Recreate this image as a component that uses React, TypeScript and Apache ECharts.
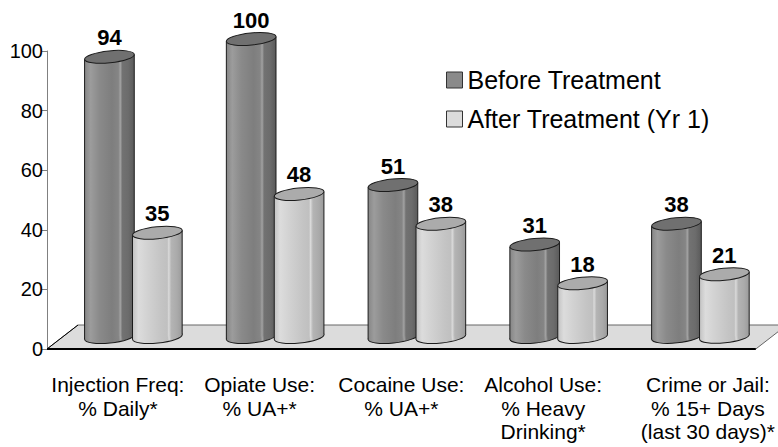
import React, { useEffect, useRef } from "react";
import * as echarts from "echarts";

const categories = [
  "Injection Freq:\n% Daily*",
  "Opiate Use:\n% UA+*",
  "Cocaine Use:\n% UA+*",
  "Alcohol Use:\n% Heavy\nDrinking*",
  "Crime or Jail:\n% 15+ Days\n(last 30 days)*",
];
const beforeValues = [94, 100, 51, 31, 38];
const afterValues = [35, 48, 38, 18, 21];
const seriesNames = ["Before Treatment", "After Treatment (Yr 1)"];
const yMin = 0;
const yMax = 100;
const yInterval = 20;

const FONT = '"Liberation Sans", Arial, Helvetica, sans-serif';
const DX = 31; // floor depth, horizontal
const DY = 24; // floor depth, vertical
const RY = 6; // ellipse vertical radius
const TILT = 0.1;
const EDGE = "#1c1c1c";

const beforeStops = [
  { offset: 0, color: "#868686" },
  { offset: 0.12, color: "#9c9c9c" },
  { offset: 0.3, color: "#8a8a8a" },
  { offset: 0.55, color: "#7e7e7e" },
  { offset: 0.68, color: "#858585" },
  { offset: 0.72, color: "#a2a2a2" },
  { offset: 0.76, color: "#727272" },
  { offset: 0.88, color: "#6c6c6c" },
  { offset: 1, color: "#5a5a5a" },
];
const afterStops = [
  { offset: 0, color: "#c2c2c2" },
  { offset: 0.12, color: "#dcdcdc" },
  { offset: 0.3, color: "#d2d2d2" },
  { offset: 0.58, color: "#c4c4c4" },
  { offset: 0.7, color: "#c0c0c0" },
  { offset: 0.73, color: "#dadada" },
  { offset: 0.78, color: "#b4b4b4" },
  { offset: 0.9, color: "#aaaaaa" },
  { offset: 1, color: "#9a9a9a" },
];

function makeCylinder(side: number, stops: any[], topColor: string) {
  return (params: any, api: any) => {
    const idx = api.value(0);
    const val = api.value(1);
    const band = api.size([1, 0])[0];
    const r = band * 0.176;
    const off = band * 0.169;
    const base = api.coord([idx, 0]);
    const top = api.coord([idx, val]);
    const cx = base[0] + side * off + DX / 2;
    const by = base[1] - DY / 2;
    const ty = top[1] - DY / 2;
    const c = Math.cos(TILT);
    const s = Math.sin(TILT);
    const ex = Math.sqrt(r * r * c * c + RY * RY * s * s);
    const d = ((r * r - RY * RY) * s * c) / ex;
    const grad = () => new echarts.graphic.LinearGradient(0, 0, 1, 0, stops);
    return {
      type: "group",
      children: [
        {
          type: "ellipse",
          shape: { cx, cy: by, rx: r, ry: RY },
          rotation: TILT,
          originX: cx,
          originY: by,
          style: { fill: grad(), stroke: EDGE, lineWidth: 1 },
        },
        {
          type: "polygon",
          shape: {
            points: [
              [cx - ex, ty + d],
              [cx + ex, ty - d],
              [cx + ex, by - d],
              [cx - ex, by + d],
            ],
          },
          style: { fill: grad(), stroke: null },
        },
        {
          type: "line",
          shape: { x1: cx - ex, y1: ty + d, x2: cx - ex, y2: by + d },
          style: { stroke: EDGE, lineWidth: 1 },
        },
        {
          type: "line",
          shape: { x1: cx + ex, y1: ty - d, x2: cx + ex, y2: by - d },
          style: { stroke: EDGE, lineWidth: 1 },
        },
        {
          type: "ellipse",
          shape: { cx, cy: ty, rx: r, ry: RY },
          rotation: TILT,
          originX: cx,
          originY: ty,
          style: { fill: topColor, stroke: EDGE, lineWidth: 1 },
        },
        {
          type: "text",
          style: {
            text: String(val),
            x: cx,
            y: ty - 19,
            align: "center",
            verticalAlign: "middle",
            fill: "#000",
            fontSize: 22,
            fontWeight: "bold",
            fontFamily: FONT,
          },
        },
      ],
    };
  };
}

function floorRender(params: any) {
  const cs = params.coordSys;
  const x0 = cs.x;
  const y0 = cs.y + cs.height;
  const x1 = cs.x + cs.width;
  return {
    type: "group",
    children: [
      {
        type: "polygon",
        shape: {
          points: [
            [x0, y0],
            [x1, y0],
            [x1 + DX, y0 - DY],
            [x0 + DX, y0 - DY],
          ],
        },
        style: { fill: "#dcdcdc", stroke: "#666", lineWidth: 1 },
      },
      {
        type: "line",
        shape: { x1: x0, y1: y0, x2: x0 + DX, y2: y0 - DY },
        style: { stroke: "#000", lineWidth: 1 },
      },
      {
        type: "line",
        shape: { x1: x0, y1: y0, x2: x1, y2: y0 },
        style: { stroke: "#000", lineWidth: 2 },
      },
    ],
  };
}

export default function App() {
  const ref = useRef<HTMLDivElement>(null);
  useEffect(() => {
    if (!ref.current) return;
    const chart = echarts.init(ref.current, undefined, { renderer: "svg" });
    const last = categories.length - 1;
    chart.setOption({
      animation: false,
      backgroundColor: "#fff",
      grid: { left: 47, right: 22, top: 51, bottom: 98 },
      legend: {
        orient: "vertical",
        left: 441,
        top: 62,
        itemWidth: 16,
        itemHeight: 16,
        itemGap: 13,
        textStyle: { fontSize: 25, lineHeight: 26, fontFamily: FONT, color: "#000" },
        data: [
          {
            name: seriesNames[0],
            icon: "rect",
            itemStyle: { color: "#8a8a8a", borderColor: "#333", borderWidth: 1 },
          },
          {
            name: seriesNames[1],
            icon: "rect",
            itemStyle: { color: "#dcdcdc", borderColor: "#333", borderWidth: 1 },
          },
        ],
      },
      xAxis: {
        type: "category",
        data: categories,
        boundaryGap: true,
        axisLine: { show: false },
        axisTick: { show: false },
        axisLabel: {
          interval: 0,
          margin: 24,
          fontSize: 21,
          lineHeight: 23.5,
          fontFamily: FONT,
          color: "#000",
          formatter: (v: string, i: number) =>
            i === last
              ? v
                  .split("\n")
                  .map((l) => "{s|" + l + "}")
                  .join("\n")
              : v,
          rich: {
            s: {
              fontSize: 21,
              lineHeight: 23.5,
              fontFamily: FONT,
              color: "#000",
              padding: [0, 0, 0, 46],
            },
          },
        },
      },
      yAxis: {
        type: "value",
        min: yMin,
        max: yMax,
        interval: yInterval,
        axisLine: { show: true, lineStyle: { color: "#808080", width: 1 } },
        axisTick: { show: true, length: 5, lineStyle: { color: "#808080" } },
        splitLine: { show: false },
        axisLabel: { fontSize: 20, fontFamily: FONT, color: "#000", margin: 4 },
      },
      series: [
        {
          name: "floor",
          type: "custom",
          renderItem: floorRender,
          data: [[0, 0]],
          silent: true,
          z: 1,
        },
        {
          name: seriesNames[0],
          type: "custom",
          itemStyle: { color: "#8a8a8a" },
          renderItem: makeCylinder(-1, beforeStops, "#707070"),
          encode: { x: 0, y: 1 },
          data: beforeValues.map((v, i) => [i, v]),
          z: 2,
        },
        {
          name: seriesNames[1],
          type: "custom",
          itemStyle: { color: "#dcdcdc" },
          renderItem: makeCylinder(1, afterStops, "#ababab"),
          encode: { x: 0, y: 1 },
          data: afterValues.map((v, i) => [i, v]),
          z: 3,
        },
      ],
    });
    return () => chart.dispose();
  }, []);
  return (
    <div
      ref={ref}
      style={{ position: "fixed", left: 0, top: 0, width: 778, height: 447 }}
    />
  );
}
